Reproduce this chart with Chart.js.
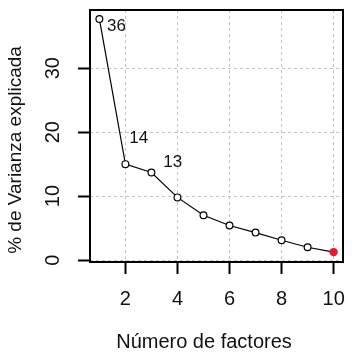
<!DOCTYPE html>
<html><head><meta charset="utf-8">
<script src="https://cdn.jsdelivr.net/npm/chart.js@4/dist/chart.umd.min.js"></script>
<style>html,body{margin:0;padding:0;background:#fff;}</style>
</head><body>
<canvas id="c" width="358" height="361" style="display:block;width:358px;height:361px"></canvas>
<script>
// ---- data ----
const factors = [1, 2, 3, 4, 5, 6, 7, 8, 9, 10];
const variance = [37.7, 15.0, 13.7, 9.8, 7.0, 5.4, 4.3, 3.1, 2.0, 1.25];
const xTicks = [2, 4, 6, 8, 10];
const yTicks = [0, 10, 20, 30];
const pointLabels = ['36', '14', '13'];
const pointLabelX = [1.66, 2.51, 3.82];
const pointLabelY = [36.6, 19.1, 15.3];
const xTitle = 'Número de factores';
const yTitle = '% de Varianza explicada';

const FONT = "'Liberation Sans', Arial, sans-serif";
const INK = '#111';
const RED = '#e8192c';
const lastIdx = variance.length - 1;

const boxAndText = {
  id: 'boxAndText',
  afterDatasetsDraw(chart) {
    const {ctx, chartArea: a, scales} = chart;
    ctx.save();
    ctx.strokeStyle = '#000';
    ctx.lineWidth = 2;
    ctx.strokeRect(a.left, a.top, a.right - a.left, a.bottom - a.top);
    ctx.fillStyle = INK;
    ctx.font = '17px ' + FONT;
    ctx.textAlign = 'center';
    ctx.textBaseline = 'middle';
    pointLabels.forEach((t, i) => {
      ctx.fillText(t, scales.x.getPixelForValue(pointLabelX[i]), scales.y.getPixelForValue(pointLabelY[i]));
    });
    ctx.font = '20px ' + FONT;
    ctx.fillText(xTitle, a.left + 114, a.bottom + 80);
    ctx.translate(16, a.top + 140);
    ctx.rotate(-Math.PI / 2);
    ctx.font = '19px ' + FONT;
    ctx.fillText(yTitle, 0, 0);
    ctx.restore();
  }
};

new Chart(document.getElementById('c'), {
  type: 'line',
  data: {
    datasets: [{
      data: factors.map((f, i) => ({x: f, y: variance[i]})),
      borderColor: '#000',
      borderWidth: 1.2,
      tension: 0,
      pointRadius: ctx => ctx.dataIndex === lastIdx ? 4.2 : 3.4,
      pointBorderWidth: ctx => ctx.dataIndex === lastIdx ? 0 : 1.2,
      pointBorderColor: ctx => ctx.dataIndex === lastIdx ? RED : '#000',
      pointBackgroundColor: ctx => ctx.dataIndex === lastIdx ? RED : '#fff',
      pointHoverRadius: 4
    }]
  },
  options: {
    responsive: false,
    animation: false,
    devicePixelRatio: 1,
    layout: {padding: {left: 0, top: 10, right: 15, bottom: 0}},
    plugins: {legend: {display: false}, tooltip: {enabled: false}},
    scales: {
      x: {
        type: 'linear',
        min: 0.64, max: 10.36,
        afterBuildTicks: s => { s.ticks = xTicks.map(v => ({value: v})); },
        afterFit: s => { s.height = 99; s.paddingLeft = 0; s.paddingRight = 0; },
        grid: {color: '#c4c4c4', lineWidth: 1, tickLength: 12, tickColor: '#000', tickWidth: 2},
        border: {display: false, dash: [3, 3]},
        ticks: {color: INK, font: {family: FONT, size: 20}, padding: 13, maxRotation: 0, autoSkip: false}
      },
      y: {
        type: 'linear',
        min: -0.3, max: 39.1,
        afterBuildTicks: s => { s.ticks = yTicks.map(v => ({value: v})); },
        afterFit: s => { s.width = 90; s.paddingTop = 0; s.paddingBottom = 0; },
        grid: {color: '#c4c4c4', lineWidth: 1, tickLength: 12, tickColor: '#000', tickWidth: 2},
        border: {display: false, dash: [3, 3]},
        ticks: {color: INK, font: {family: FONT, size: 20}, padding: 13, minRotation: 90, maxRotation: 90, crossAlign: 'center', autoSkip: false}
      }
    }
  },
  plugins: [boxAndText]
});
</script>
</body></html>
